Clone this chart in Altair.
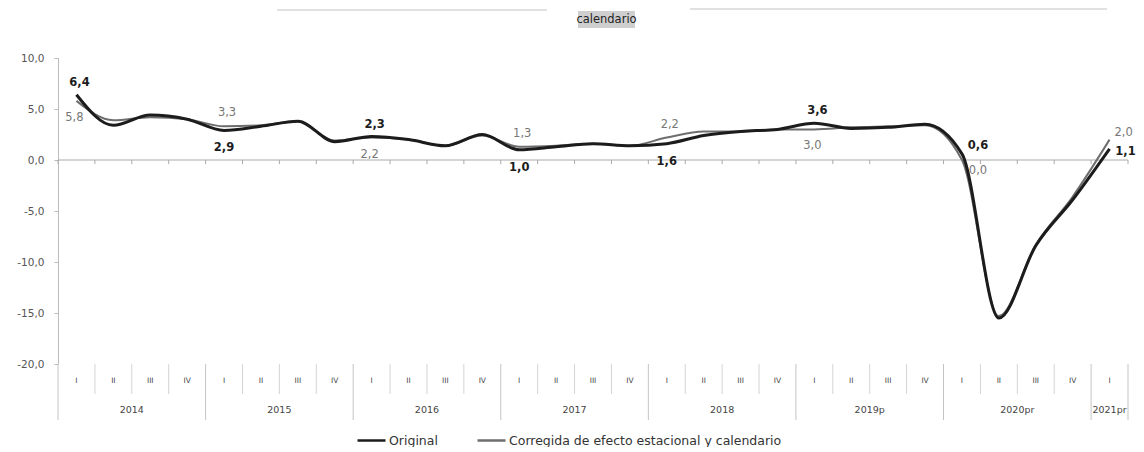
import altair as alt
import pandas as pd

# ---------------- data ----------------
years = ["2014", "2015", "2016", "2017", "2018", "2019p", "2020pr", "2021pr"]
quarters = ["I", "II", "III", "IV"] * 7 + ["I"]
original = [6.4, 3.4, 4.4, 4.0, 2.9, 3.3, 3.8, 1.8, 2.3, 2.0, 1.4, 2.5,
            1.0, 1.3, 1.6, 1.4, 1.6, 2.4, 2.8, 3.0, 3.6, 3.1, 3.2, 3.5,
            0.6, -15.5, -8.4, -3.9, 1.1]
corregida = [5.8, 3.9, 4.2, 4.0, 3.3, 3.4, 3.8, 1.9, 2.2, 2.0, 1.4, 2.4,
             1.3, 1.4, 1.6, 1.4, 2.2, 2.8, 2.8, 3.0, 3.0, 3.2, 3.3, 3.4,
             0.0, -15.3, -8.3, -3.6, 2.0]
series_names = ["Original", "Corregida de efecto estacional y calendario"]
y_ticks = [-20, -15, -10, -5, 0, 5, 10]
title_text = "calendario"

# which points carry a value label, and where
orig_above = [0, 8, 20]
orig_below = [4, 12, 16]
adj_above = [4, 12, 16]
adj_below = [0, 8, 20]

n = len(quarters)
idx = list(range(n))
W, H = 1070, 306
FONT = "DejaVu Sans"

long = pd.DataFrame({
    "idx": idx * 2,
    "serie": ["orig"] * n + ["adj"] * n,
    "nombre": [series_names[0]] * n + [series_names[1]] * n,
    "valor": original + corregida,
})
qdf = pd.DataFrame({"idx": idx, "q": quarters, "year": [years[i // 4] for i in idx]})
bounds = pd.DataFrame({"b": [i - 0.5 for i in range(n + 1)],
                       "kind": ["year" if (i % 4 == 0 or i == n) else "q" for i in range(n + 1)],
                       "y0": [0.0] * (n + 1), "y1": [-0.4] * (n + 1)})
deco = pd.DataFrame({"t": [title_text]})

xs = alt.Scale(domain=[-0.5, n - 0.5], nice=False, zero=False)
ys = alt.Scale(domain=[-20, 10], nice=False, zero=False)
X = alt.X("idx:Q", scale=xs, axis=None)
color_scale = alt.Scale(domain=series_names, range=["#1c1c1c", "#6e6e6e"])

legend = alt.Legend(orient="none", legendX=298, legendY=367, direction="horizontal",
                    title=None, symbolType="stroke", symbolSize=784, symbolStrokeWidth=2.5,
                    labelFont=FONT, labelFontSize=12.5, labelColor="#333", labelLimit=0,
                    labelOffset=2, columnPadding=34)

yaxis = alt.Axis(values=y_ticks, title=None, grid=False,
                 labelExpr="replace(replace(format(datum.value, '.1f'), '.', ','), '\u2212', '-')",
                 domainColor="#bbb", tickColor="#bbb", tickSize=4, labelPadding=10,
                 labelFont=FONT, labelFontSize=10.5, labelColor="#555")


def line(key, width):
    return alt.Chart(long).transform_filter(
        f"datum.serie == '{key}'"
    ).mark_line(interpolate="monotone", strokeWidth=width).encode(
        x=X,
        y=alt.Y("valor:Q", scale=ys, axis=yaxis),
        color=alt.Color("nombre:N", scale=color_scale, legend=legend),
    )


line_adj = line("adj", 2)
line_orig = line("orig", 3)

zero = alt.Chart(pd.DataFrame({"y": [0]})).mark_rule(color="#aaa", strokeWidth=1).encode(
    y=alt.Y("y:Q", scale=ys), x=alt.value(0), x2=alt.value(W))

zero_ticks = alt.Chart(bounds).mark_rule(color="#aaa", strokeWidth=1).encode(
    x=alt.X("b:Q", scale=xs, axis=None), y=alt.Y("y0:Q", scale=ys), y2="y1:Q")

q_sep = alt.Chart(bounds).transform_filter("datum.kind == 'q'").mark_rule(
    color="#d4d4d4", strokeWidth=1).encode(
    x=alt.X("b:Q", scale=xs, axis=None), y=alt.value(H), y2=alt.value(H + 30))
y_sep = alt.Chart(bounds).transform_filter("datum.kind == 'year'").mark_rule(
    color="#c4c4c4", strokeWidth=1).encode(
    x=alt.X("b:Q", scale=xs, axis=None), y=alt.value(H), y2=alt.value(H + 56))

q_text = alt.Chart(qdf).mark_text(font=FONT, fontSize=7.5, color="#444").encode(
    x=X, y=alt.value(H + 17), text="q:N")
yr_text = alt.Chart(qdf).transform_aggregate(
    center="mean(idx)", groupby=["year"]).mark_text(font=FONT, fontSize=9.5, color="#444").encode(
    x=alt.X("center:Q", scale=xs, axis=None), y=alt.value(H + 46), text="year:N")


def labels(key, idxs, bold, dx, dy):
    color = "#1c1c1c" if bold else "#777"
    lst = ",".join(str(i) for i in idxs)
    return alt.Chart(long).transform_filter(
        f"datum.serie == '{key}' && indexof([{lst}], datum.idx) >= 0"
    ).transform_calculate(
        lab="replace(format(datum.valor, '.1f'), '.', ',')"
    ).mark_text(font=FONT, fontSize=11.5, fontWeight="bold" if bold else "normal",
                color=color, dx=dx, dy=dy).encode(
        x=X, y=alt.Y("valor:Q", scale=ys), text="lab:N")


lab_layers = [
    labels("orig", orig_above, True, 3, -12),
    labels("orig", orig_below, True, 0, 18),
    labels("adj", adj_above, False, 3, -13),
    labels("adj", adj_below, False, -2, 17),
    labels("orig", [24], True, 16, -8),
    labels("adj", [24], False, 16, 11),
    labels("adj", [28], False, 14, -7),
    labels("orig", [28], True, 16, 3),
]

# scanned-page header remnants: highlighted title and two faint rules
title_bg = alt.Chart(deco).mark_rect(color="#cfcfcf").encode(
    x=alt.value(520), x2=alt.value(577), y=alt.value(-47), y2=alt.value(-30))
title = alt.Chart(deco).mark_text(font=FONT, fontSize=11.5, color="#222").encode(
    x=alt.value(548.5), y=alt.value(-38.5), text="t:N")
top_rule1 = alt.Chart(deco).mark_rule(color="#c4c4c4", strokeWidth=1.2).encode(
    x=alt.value(219), x2=alt.value(489), y=alt.value(-48))
top_rule2 = alt.Chart(deco).mark_rule(color="#c4c4c4", strokeWidth=1.2).encode(
    x=alt.value(632), x2=alt.value(1049), y=alt.value(-49))

chart = alt.layer(
    top_rule1, top_rule2, title_bg, title,
    zero, zero_ticks, q_sep, y_sep, q_text, yr_text,
    line_adj, line_orig, *lab_layers,
).properties(
    width=W, height=H,
    padding={"left": 8, "top": 0, "right": 0, "bottom": 0},
).configure_view(stroke=None)

chart.save("out.html", embed_options={"renderer": "svg", "actions": False})
